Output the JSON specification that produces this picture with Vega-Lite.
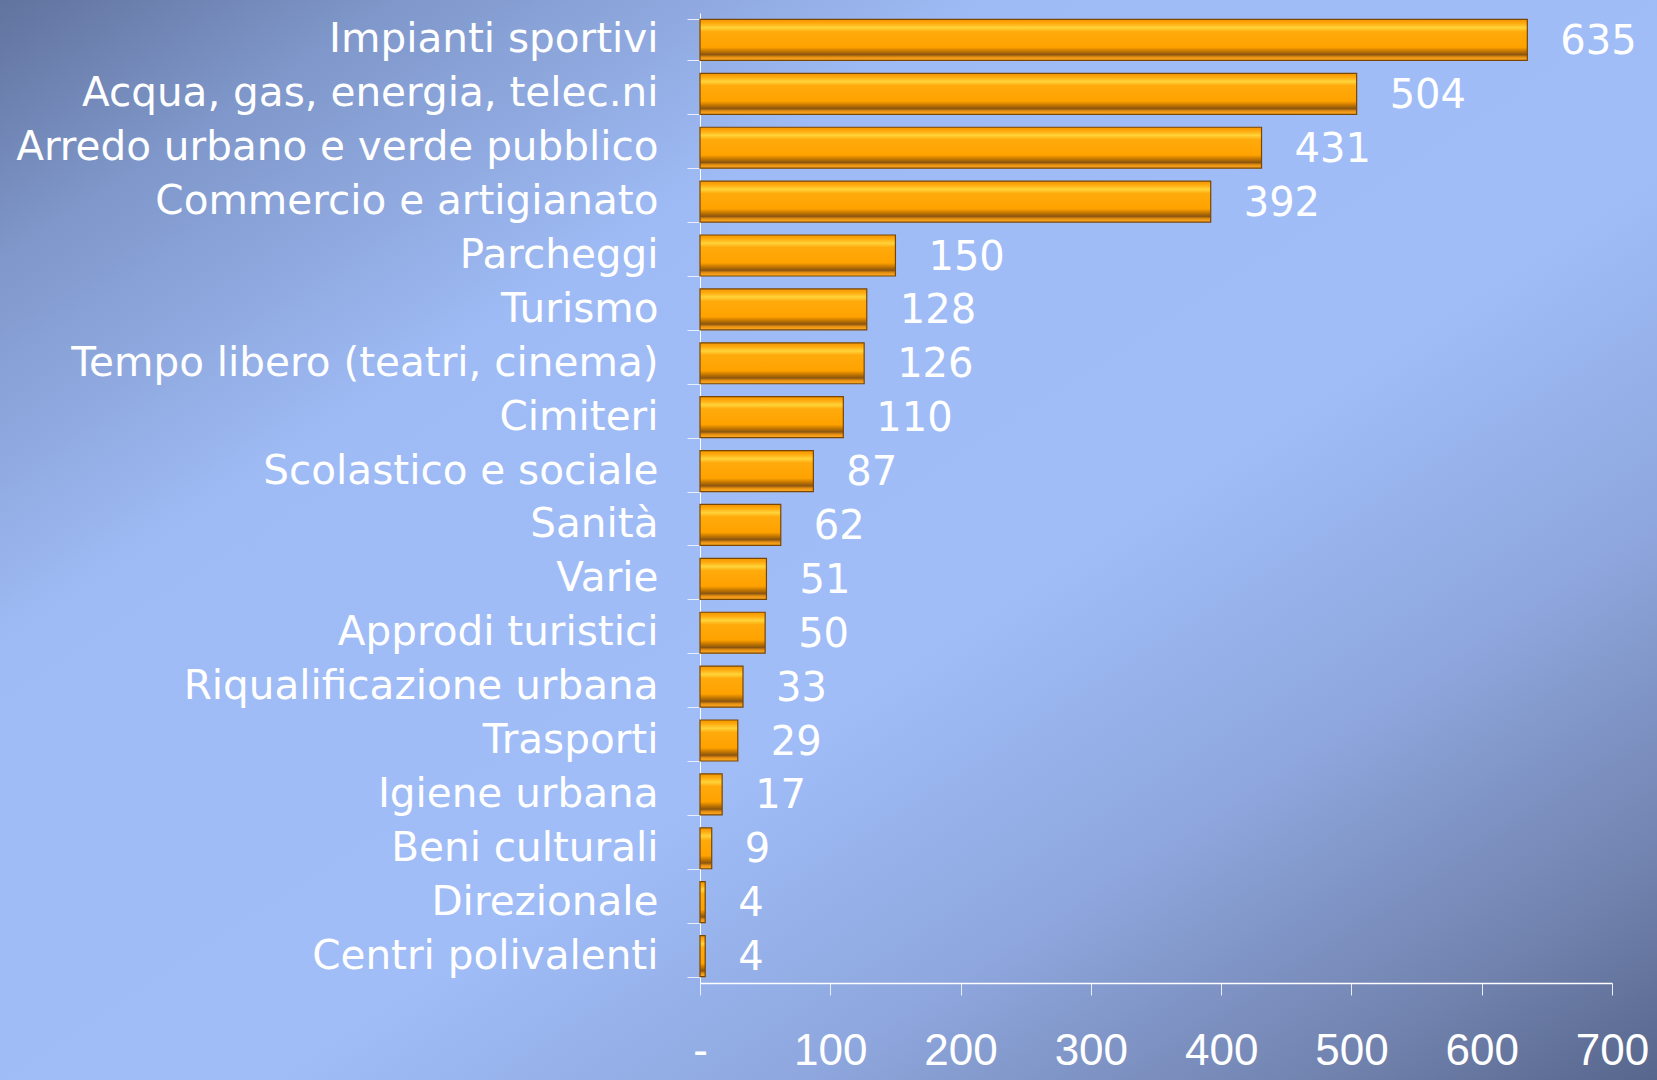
{
  "$schema": "https://vega.github.io/schema/vega-lite/v6.json",
  "width": 1657,
  "height": 1080,
  "padding": 0,
  "autosize": {"type": "none"},
  "background": "#8fa9e2",
  "config": {
    "view": {
      "stroke": null,
      "fill": {
        "gradient": "linear",
        "x1": 0, "y1": 0, "x2": 1, "y2": 1,
        "stops": [
          {"offset": 0, "color": "#61739e"},
          {"offset": 0.12, "color": "#7f97ca"},
          {"offset": 0.3, "color": "#9fbbf5"},
          {"offset": 0.58, "color": "#a0bdf8"},
          {"offset": 0.74, "color": "#8ea7de"},
          {"offset": 0.9, "color": "#7182ae"},
          {"offset": 1, "color": "#56668c"}
        ]
      }
    }
  },
  "data": {
    "values": [
      {"categoria": "Impianti sportivi", "valore": 635},
      {"categoria": "Acqua, gas, energia, telec.ni", "valore": 504},
      {"categoria": "Arredo urbano e verde pubblico", "valore": 431},
      {"categoria": "Commercio e artigianato", "valore": 392},
      {"categoria": "Parcheggi", "valore": 150},
      {"categoria": "Turismo", "valore": 128},
      {"categoria": "Tempo libero (teatri, cinema)", "valore": 126},
      {"categoria": "Cimiteri", "valore": 110},
      {"categoria": "Scolastico e sociale", "valore": 87},
      {"categoria": "Sanità", "valore": 62},
      {"categoria": "Varie", "valore": 51},
      {"categoria": "Approdi turistici", "valore": 50},
      {"categoria": "Riqualificazione urbana", "valore": 33},
      {"categoria": "Trasporti", "valore": 29},
      {"categoria": "Igiene urbana", "valore": 17},
      {"categoria": "Beni culturali", "valore": 9},
      {"categoria": "Direzionale", "valore": 4},
      {"categoria": "Centri polivalenti", "valore": 4}
    ]
  },
  "encoding": {
    "y": {
      "field": "categoria",
      "type": "nominal",
      "sort": null,
      "scale": {"range": [13, 983], "paddingInner": 0.24, "paddingOuter": 0.12},
      "axis": {
        "title": null,
        "orient": "left",
        "offset": -700,
        "tickBand": "extent",
        "tickSize": 13,
        "tickColor": "#e8eefc",
        "tickWidth": 1,
        "domainColor": "#ffffff",
        "domainWidth": 1,
        "labelFont": "DejaVu Sans",
        "labelFontSize": 40.5,
        "labelColor": "#ffffff",
        "labelPadding": 29,
        "labelLimit": 0
      }
    },
    "x": {
      "field": "valore",
      "type": "quantitative",
      "scale": {"domain": [0, 700], "range": [700, 1612], "nice": false, "zero": true},
      "axis": {
        "title": null,
        "orient": "bottom",
        "offset": -97,
        "values": [0, 100, 200, 300, 400, 500, 600, 700],
        "grid": false,
        "tickSize": 12,
        "tickColor": "#e8eefc",
        "domainColor": "#ffffff",
        "domainWidth": 1.5,
        "labelFont": "Liberation Sans",
        "labelFontSize": 44,
        "labelColor": "#ffffff",
        "labelPadding": 34,
        "labelExpr": "datum.value == 0 ? '-' : datum.label",
        "labelFlush": false
      }
    }
  },
  "layer": [
    {
      "mark": {
        "type": "bar",
        "stroke": "#7a4600",
        "strokeWidth": 1.2,
        "color": {
          "gradient": "linear",
          "x1": 0, "y1": 0, "x2": 0, "y2": 1,
          "stops": [
            {"offset": 0, "color": "#f39400"},
            {"offset": 0.1, "color": "#ffac10"},
            {"offset": 0.2, "color": "#ffd43a"},
            {"offset": 0.3, "color": "#ffaa0c"},
            {"offset": 0.68, "color": "#ffa200"},
            {"offset": 0.78, "color": "#c07400"},
            {"offset": 0.86, "color": "#8a5510"},
            {"offset": 0.92, "color": "#e89010"},
            {"offset": 1, "color": "#ffae28"}
          ]
        }
      }
    },
    {
      "mark": {
        "type": "text",
        "align": "left",
        "baseline": "middle",
        "dx": 33,
        "dy": 2,
        "font": "DejaVu Sans",
        "fontSize": 40,
        "color": "#ffffff"
      },
      "encoding": {
        "text": {"field": "valore", "type": "quantitative"}
      }
    }
  ]
}
